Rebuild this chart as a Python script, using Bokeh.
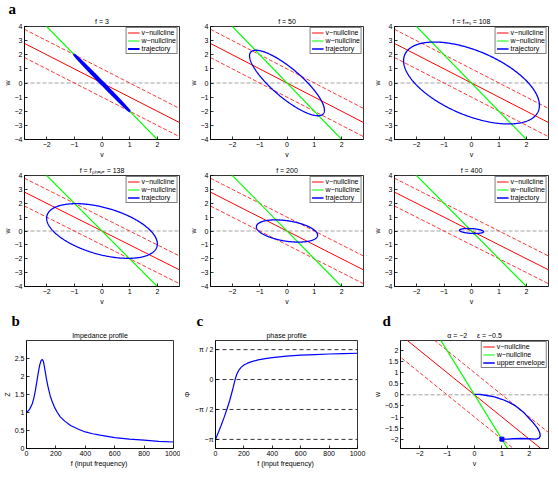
import math
import numpy as np
from bokeh.plotting import figure
from bokeh.layouts import column, row
from bokeh.models import (Range1d, FixedTicker, Span, Legend, LegendItem, Title)
from bokeh.embed import file_html
from bokeh.resources import INLINE

FONT = "Liberation Sans"

# ---------------- data ----------------
panel_titles = ["f = 3", "f = 50", "f = fᵣₑₛ = 108",
                "f = fₚₕₐₛₑ = 138", "f = 200", "f = 400"]
drive_freq = [3, 50, 108, 138, 200, 400]
# sinusoidal steady-state trajectory: amplitudes of v and w, phase of w relative to v
traj_v_amp = [1.0, 1.37, 2.47, 2.0, 1.12, 0.44]
traj_w_amp = [2.0, 2.32, 2.9, 1.97, 0.8, 0.18]
traj_phase_deg = [177, 146, 123, 118, 112, 106]

v_null_slope = -1.0
v_null_band = [1.0, -1.0]
w_null_slope = -2.0
v_span = [-3.0, 3.0]

plane_xticks = [-2, -1, 0, 1, 2]
plane_yticks = [-4, -3, -2, -1, 0, 1, 2, 3, 4]
legend_labels = ["v−nullcline", "w−nullcline", "trajectory"]
panel_letters = ["a", "b", "c", "d"]

imp_f = [0, 20, 40, 50, 60, 70, 80, 90, 100, 108, 115, 125, 135, 145, 160, 175, 190,
         210, 230, 260, 300, 350, 400, 450, 500, 600, 700, 800, 900, 1000]
imp_z = [1.0, 1.08, 1.25, 1.4, 1.6, 1.85, 2.1, 2.32, 2.45, 2.47, 2.42, 2.2, 1.95, 1.74,
         1.48, 1.3, 1.15, 1.0, 0.88, 0.76, 0.64, 0.54, 0.46, 0.41, 0.37, 0.3, 0.26, 0.23, 0.2, 0.18]
imp_yticks = [0, 0.5, 1, 1.5, 2, 2.5]
freq_ticks = [0, 200, 400, 600, 800, 1000]

phase_f = [0, 20, 40, 60, 80, 100, 120, 138, 150, 165, 180, 200, 225, 250, 300, 350,
           400, 500, 600, 700, 800, 900, 1000]
phase_val = [-3.14, -2.78, -2.4, -2.0, -1.57, -1.1, -0.55, 0.0, 0.28, 0.5, 0.64, 0.76,
             0.86, 0.93, 1.03, 1.1, 1.15, 1.23, 1.28, 1.31, 1.34, 1.36, 1.38]
phase_ticks = [-math.pi, -math.pi / 2, 0, math.pi / 2]
phase_tick_labels = ["−π", "−π / 2", "0", "π / 2"]

env_v = [0.0, 0.2, 0.45, 0.73, 1.0, 1.25, 1.5, 1.8, 2.1, 2.3, 2.38, 2.4, 2.36, 2.25,
         2.0, 1.7, 1.4, 1.2, 1.0]
env_w = [0.02, 0.02, -0.03, -0.09, -0.2, -0.33, -0.5, -0.8, -1.2, -1.5, -1.7, -1.85,
         -1.95, -2.0, -1.98, -1.97, -1.98, -2.0, -2.0]
env_end_v = [1.0]
env_end_w = [-2.0]
d_yticks = [-2, -1.5, -1, -0.5, 0, 0.5, 1, 1.5, 2]
d_legend_labels = ["v−nullcline", "w−nullcline", "upper envelope"]
d_title = "α = −2\u00a0\u00a0\u00a0\u00a0\u00a0ε = −0.5"


def fmt(t):
    s = ("%g" % abs(t))
    return ("−" + s) if t < 0 else s


def small_title(text):
    return Title(text=text, text_font=FONT, text_font_size="7px", text_font_style="normal",
                 text_color="black", align="center", standoff=3)


def style(p):
    for ax in (p.xaxis[0], p.yaxis[0]):
        ax.major_tick_in = 3
        ax.major_tick_out = 0
        ax.minor_tick_line_color = None
        ax.major_label_text_font = FONT
        ax.major_label_text_font_size = "7px"
        ax.major_label_text_color = "black"
        ax.axis_label_text_font = FONT
        ax.axis_label_text_font_size = "7px"
        ax.axis_label_text_font_style = "normal"
        ax.axis_label_text_color = "black"
        ax.major_label_standoff = 2
        ax.axis_label_standoff = 1
        ax.axis_line_width = 0.8
        ax.major_tick_line_width = 0.8
    p.grid.visible = False
    p.outline_line_color = "black"
    p.outline_line_width = 0.8
    p.outline_line_alpha = 1
    p.background_fill_color = "white"
    p.border_fill_color = "white"


def set_ticks(axis, ticks, labels=None):
    axis.ticker = FixedTicker(ticks=ticks)
    if labels is None:
        labels = [fmt(t) for t in ticks]
    axis.major_label_overrides = {t: l for t, l in zip(ticks, labels)}


def make_fig(title, w, h, bl, br, bt, bb, xr, yr, letter=None, letter_offset=0, letter_standoff=-4):
    p = figure(width=w, height=h, x_range=Range1d(*xr), y_range=Range1d(*yr),
               output_backend="svg", toolbar_location=None,
               min_border_left=bl, min_border_right=br,
               min_border_top=bt, min_border_bottom=bb)
    style(p)
    if letter is None:
        p.title = small_title(title)
    else:
        # outermost title: panel letter; inner title: panel caption
        p.title = Title(text=letter, align="left", offset=letter_offset, standoff=letter_standoff,
                        text_font="Liberation Serif", text_font_size="15px",
                        text_font_style="bold", text_color="black")
        p.add_layout(small_title(title), "above")
    return p


def add_legend(p, renderers, labels):
    lg = Legend(items=[LegendItem(label=l, renderers=[r]) for l, r in zip(labels, renderers)],
                location="top_right", label_text_font=FONT, label_text_font_size="7px",
                label_text_color="black",
                label_height=7, glyph_height=7, glyph_width=12, label_standoff=2,
                spacing=1, padding=1, margin=1, border_line_color="black",
                border_line_width=0.8, background_fill_alpha=1)
    p.add_layout(lg)


def add_nullclines(p):
    p.add_layout(Span(location=0, dimension="width", line_color="#8c8c8c",
                      line_dash="4 2", line_width=0.8, level="underlay"))
    vs = np.array(v_span)
    for off in v_null_band:
        p.line(x=vs, y=v_null_slope * vs + off, line_color="#ff2020",
               line_dash="4 2", line_width=0.9)
    r_v = p.line(x=vs, y=v_null_slope * vs, line_color="#ff0000", line_width=1)
    r_w = p.line(x=vs, y=w_null_slope * vs, line_color="#00ff00", line_width=1.2)
    return r_v, r_w


# ---------------- phase planes ----------------
col_w = [186, 184, 179]
col_bl = [19, 18, 17]
col_br = [7, 7, 1]
row_h = [160, 147]
row_bt = [25, 15]
row_bb = [19, 18]

t = np.linspace(0, 2 * np.pi, 360)
rows = []
for r in range(2):
    figs = []
    for c in range(3):
        i = r * 3 + c
        p = make_fig(panel_titles[i], col_w[c], row_h[r], col_bl[c], col_br[c],
                     row_bt[r], row_bb[r], (-2.8, 2.8), (-4, 4),
                     letter=panel_letters[0] if i == 0 else None, letter_offset=-16,
                     letter_standoff=-4)
        p.xaxis.axis_label = "v"
        p.yaxis.axis_label = "w"
        set_ticks(p.xaxis[0], plane_xticks)
        set_ticks(p.yaxis[0], plane_yticks)
        r_v, r_w = add_nullclines(p)
        tv = traj_v_amp[i] * np.cos(t)
        tw = traj_w_amp[i] * np.cos(t + np.deg2rad(traj_phase_deg[i]))
        r_t = p.line(x=tv, y=tw, line_color="#0000ff", line_width=2.2 if i == 0 else 1.3)
        add_legend(p, [r_v, r_w, r_t], legend_labels)
        figs.append(p)
    rows.append(row(*figs, spacing=0))

# ---------------- bottom row ----------------
pb = make_fig("Impedance profile", 180, 162, 20, 7, 31, 17, (0, 1000), (0, 3),
              letter=panel_letters[1], letter_offset=-15, letter_standoff=0)
pb.xaxis.axis_label = "f  (input frequency)"
pb.yaxis.axis_label = "Z"
set_ticks(pb.xaxis[0], freq_ticks)
set_ticks(pb.yaxis[0], imp_yticks)
pb.line(x=imp_f, y=imp_z, line_color="#0000ff", line_width=1.2)

pc = make_fig("phase profile", 190, 162, 28, 13, 33, 17, (0, 1000), (-3.62, 2.05),
              letter=panel_letters[2], letter_offset=-19, letter_standoff=0)
pc.xaxis.axis_label = "f  (input frequency)"
pc.yaxis.axis_label = "Φ"
set_ticks(pc.xaxis[0], freq_ticks)
set_ticks(pc.yaxis[0], phase_ticks, phase_tick_labels)
for lv in phase_ticks:
    pc.add_layout(Span(location=lv, dimension="width", line_color="black",
                       line_dash="4 3", line_width=0.8, level="underlay"))
pc.line(x=phase_f, y=phase_val, line_color="#0000ff", line_width=1.2)

pd_ = make_fig(d_title, 179, 162, 24, 1, 31, 17, (-2.7, 2.7), (-2.42, 2.45),
               letter=panel_letters[3], letter_offset=-18, letter_standoff=0)
pd_.xaxis.axis_label = "v"
pd_.yaxis.axis_label = "w"
set_ticks(pd_.xaxis[0], plane_xticks)
set_ticks(pd_.yaxis[0], d_yticks)
r_v, r_w = add_nullclines(pd_)
r_e = pd_.line(x=env_v, y=env_w, line_color="#0000ff", line_width=1.3)
pd_.scatter(x=env_end_v, y=env_end_w, marker="square", size=4, color="#0000ff")
add_legend(pd_, [r_v, r_w, r_e], d_legend_labels)

rows.append(row(pb, pc, pd_, spacing=0))
layout = column(*rows, spacing=0)

open("out.html", "w").write(file_html(layout, INLINE))
